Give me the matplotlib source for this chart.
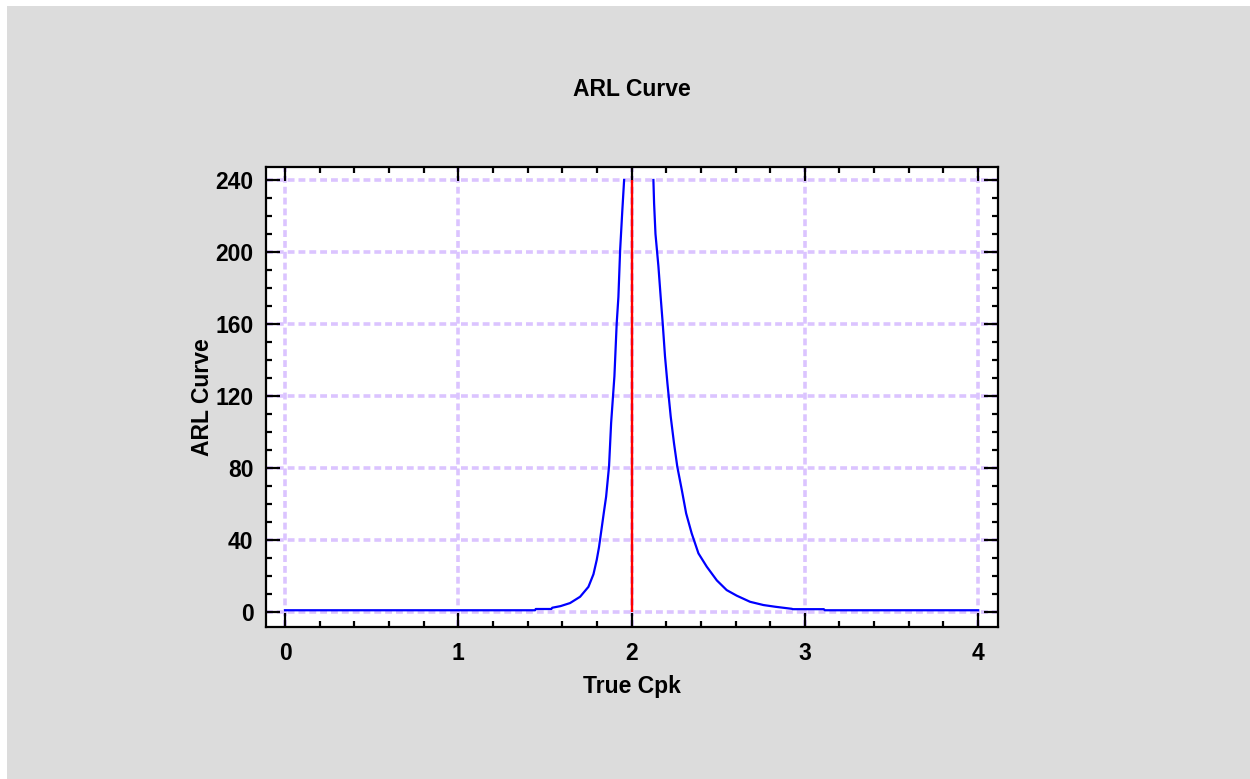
import matplotlib as mpl
mpl.use('Agg')
from matplotlib import pyplot as plt
from matplotlib.patches import Rectangle
from matplotlib.ticker import MultipleLocator

# ARL curve, values
left_cpk = [0.0, 1.443, 1.447, 1.537, 1.542, 1.59, 1.645, 1.703, 1.751,
            1.78, 1.799, 1.812, 1.828, 1.841, 1.853, 1.870, 1.882, 1.901,
            1.914, 1.924, 1.934, 1.946, 1.957]
left_arl = [1, 1, 1.7, 1.7, 2.4, 3.3, 5.0, 8.5, 14, 21, 29, 36, 47, 56, 64,
            81, 105, 131, 160, 175, 201, 222, 240]

right_cpk = [2.126, 2.130, 2.138, 2.155, 2.168, 2.180, 2.193, 2.207, 2.226,
             2.245, 2.264, 2.290, 2.315, 2.347, 2.386, 2.434, 2.492, 2.549,
             2.607, 2.684, 2.761, 2.828, 2.925, 2.93, 3.11, 3.115, 4.0]
right_arl = [240, 227, 210, 192, 175, 160, 142, 127, 108.5, 93.7, 80.7,
             67.8, 54.8, 43.7, 32.6, 25.2, 17.6, 12.2, 9.1, 5.7, 3.9, 2.96,
             1.8, 1.6, 1.6, 1, 1]

target_cpk = 2.0
arl_cap = 240

x_ticks = [0, 1, 2, 3, 4]
y_ticks = [0, 40, 80, 120, 160, 200, 240]

plt.rcParams['font.family'] = ['Liberation Sans', 'DejaVu Sans']
plt.rcParams['font.weight'] = 'bold'
plt.rcParams['font.size'] = 16.5

fig = plt.figure(figsize=(12.5, 7.79), dpi=100, facecolor='white')
fig.patches.append(Rectangle((7 / 1250, 0), 1, 1 - 6 / 779,
                             transform=fig.transFigure, facecolor='#dcdcdc',
                             edgecolor='none', zorder=-10))

ax = fig.add_axes([266 / 1250, 1 - 627 / 779, 732 / 1250, 460 / 779])
ax.set_facecolor('white')

ax.plot(left_cpk, left_arl, color='#0000ff', lw=1.6, zorder=3)
ax.plot(right_cpk, right_arl, color='#0000ff', lw=1.6, zorder=3)
ax.vlines(target_cpk, 0, arl_cap, color='#ff0000', lw=1.7, zorder=4)

ax.set_xlim(-0.11, 4.115)
ax.set_ylim(-8.3, 247.2)
ax.set_xticks(x_ticks)
ax.set_yticks(y_ticks)
ax.xaxis.set_minor_locator(MultipleLocator(0.2))
ax.yaxis.set_minor_locator(MultipleLocator(10))

ax.grid(True, which='major', color='#dbc4ff', lw=2.6, ls=(0, (1.9, 1.1)))
ax.set_axisbelow(True)

ax.tick_params(which='both', direction='in', top=True, right=True,
               width=1.6, colors='black')
ax.tick_params(which='major', length=10)
ax.tick_params(which='minor', length=4.5)
ax.tick_params(axis='x', which='major', pad=11)
ax.tick_params(axis='y', which='major', pad=9)
for spine in ax.spines.values():
    spine.set_linewidth(1.6)

ax.set_xlabel('True Cpk', fontweight='bold', labelpad=7)
ax.set_ylabel('ARL Curve', fontweight='bold', labelpad=1)
fig.text(0.5056, 1 - 90 / 779, 'ARL Curve', ha='center', va='center',
         fontweight='bold')

fig.savefig('out.png', dpi=100, facecolor=fig.get_facecolor())
